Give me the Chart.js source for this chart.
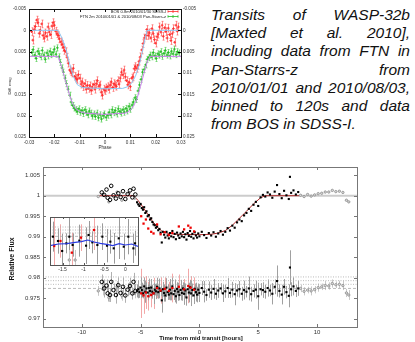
<!DOCTYPE html>
<html>
<head>
<meta charset="utf-8">
<script src="https://cdn.jsdelivr.net/npm/chart.js@4.4.1/dist/chart.umd.min.js"></script>
<style>
  html, body { margin:0; padding:0; background:#fff; width:415px; height:342px; overflow:hidden; }
  canvas { position:absolute; }
  #c1 { left:0; top:0; }
  #c2 { left:0; top:160px; }
  #c3 { left:40px; top:205px; }
  #note { position:absolute; left:211px; top:6px; width:199px; color:#111;
          font: italic 15.5px/18.2px "Liberation Sans", Arial, sans-serif; }
  #note div { text-align: justify; text-align-last: justify; }
  #note div.last { text-align-last: left; }
</style>
</head>
<body>
<canvas id="c1" width="205" height="155"></canvas>
<div id="note">
  <div>Transits of WASP-32b</div>
  <div>[Maxted et al. 2010],</div>
  <div>including data from FTN in</div>
  <div>Pan-Starrs-z from</div>
  <div>2010/01/01 and 2010/08/03,</div>
  <div>binned to 120s and data</div>
  <div class="last">from BOS in SDSS-I.</div>
</div>
<canvas id="c2" width="415" height="182"></canvas>
<canvas id="c3" width="110" height="70"></canvas>
<script>
// ---- top panel: phase-folded light curves (diff. mag) ----
const phaseTicks = [-0.03, -0.02, -0.01, 0, 0.01, 0.02, 0.03]
const phaseLabels = ['-0.03', '-0.02', '-0.01', '0', '0.01', '0.02', '0.03']
const magTicks = [-0.005, 0, 0.005, 0.01, 0.015, 0.02, 0.025]
const magLabels = ['-0.005', '0', '0.005', '0.01', '0.015', '0.02', '0.025']
const legendNames = ['BOS 0.8m 2010/01/30 SDSS-I', 'FTN 2m 2010/01/01 & 2010/08/03 Pan-Starrs-z']

const bosPhase = [-0.029,-0.0285,-0.028,-0.0275,-0.027,-0.0265,-0.026,-0.0255,-0.025,-0.0245,-0.024,-0.0235,-0.023,-0.0225,-0.022,-0.0215,-0.021,-0.0205,-0.02,-0.0195,-0.019,
  -0.0185,-0.018,-0.0175,-0.017,-0.0165,-0.016,-0.0155,-0.015,-0.0145,-0.014,-0.0135,-0.013,-0.0125,-0.012,-0.0115,-0.011,
  -0.0105,-0.01,-0.0095,-0.009,-0.0085,-0.008,-0.0075,-0.007,-0.0065,-0.006,-0.0055,-0.005,-0.0045,-0.004,-0.0035,-0.003,-0.0025,-0.002,-0.0015,-0.001,-0.0005,0,
  0.0005,0.001,0.0015,0.002,0.0025,0.003,0.0035,0.004,0.0045,0.005,0.0055,0.006,0.0065,0.007,0.0075,0.008,0.0085,0.009,0.0095,0.01,
  0.0105,0.011,0.0115,0.012,0.0125,0.013,0.0135,0.014,0.0145,0.015,0.0155,0.016,0.0165,
  0.017,0.0175,0.018,0.0185,0.019,0.0195,0.02,0.0205,0.021,0.0215,0.022,0.0225,0.023,0.0235,0.024,0.0245,0.025,0.0255,0.026,0.0265,0.027,0.0275,0.028,0.0285,0.029]
const bosMag = [0.0003,0.0023,-0.0002,-0.0009,-0.0024,-0.0018,0.0007,0.0,-0.0015,0.0012,0.0018,0.0006,0.0014,-0.0008,0.0004,0.001,-0.001,-0.0018,-0.0012,0.0002,0.0008,
  0.0012,0.002,0.0027,0.0033,0.004,0.0047,0.005,0.0063,0.0077,0.0093,0.0097,0.01,0.0089,0.0108,0.0112,0.0115,
  0.0104,0.0112,0.0126,0.0121,0.0132,0.0125,0.0138,0.0129,0.0136,0.013,0.0141,0.0133,0.0127,0.0138,0.0125,0.0118,0.0131,0.0128,0.0145,0.0152,0.0138,0.0141,
  0.0135,0.0132,0.0138,0.0128,0.0121,0.0134,0.0125,0.0128,0.0131,0.0118,0.0126,0.0112,0.0098,0.0104,0.0093,0.0109,0.0118,0.0128,0.0122,0.0132,
  0.0112,0.0109,0.009,0.0085,0.0089,0.0082,0.0072,0.0062,0.0046,0.0031,0.0018,0.0012,-0.0002,
  0.0012,0.0006,0.0018,-0.0004,0.0008,0.0022,0.003,0.0015,0.0009,-0.0008,0.0004,-0.0012,0.0014,-0.0006,0.0003,0.0018,-0.0005,0.001,0.0024,0.0008,-0.0004,0.0028,-0.0012,0.0002,-0.0008]
const bosErr = 0.0009

const ftnPhase = [-0.029,-0.0284,-0.0278,-0.0272,-0.0266,-0.026,-0.0254,-0.0248,-0.0242,-0.0236,-0.023,-0.0224,-0.0218,-0.0212,-0.0206,-0.02,-0.0194,-0.0188,-0.0182,
  -0.0176,-0.017,-0.0164,-0.0158,-0.0152,-0.0146,-0.014,-0.0134,-0.0128,-0.0122,-0.0116,
  -0.011,-0.0104,-0.0098,-0.0092,-0.0086,-0.008,-0.0074,-0.0068,-0.0062,-0.0056,-0.005,-0.0044,-0.0038,-0.0032,-0.0026,-0.002,-0.0014,-0.0008,-0.0002,
  0.0004,0.001,0.0016,0.0022,0.0028,0.0034,0.004,0.0046,0.0052,0.0058,0.0064,0.007,0.0076,0.0082,0.0088,0.0094,0.01,
  0.0106,0.0112,0.0118,0.0124,0.013,0.0136,0.0142,0.0148,0.0154,0.016,0.0166,0.0172,
  0.0178,0.0184,0.019,0.0196,0.0202,0.0208,0.0214,0.022,0.0226,0.0232,0.0238,0.0244,0.025,0.0256,0.0262,0.0268,0.0274,0.028,0.0286,0.0292]
const ftnMag = [0.0052,0.0045,0.0058,0.0066,0.0049,0.0055,0.0062,0.0047,0.0058,0.0068,0.0053,0.006,0.0049,0.0057,0.0052,0.0044,0.0056,0.0041,0.0062,
  0.0075,0.0088,0.0098,0.0112,0.0125,0.0138,0.0152,0.0168,0.0176,0.0182,0.0186,
  0.019,0.0184,0.0192,0.0188,0.0195,0.0186,0.0192,0.0198,0.0189,0.0194,0.0201,0.0196,0.0202,0.0194,0.0205,0.0198,0.0208,0.02,0.0196,
  0.0204,0.0199,0.0192,0.0198,0.0186,0.0193,0.0188,0.0196,0.0184,0.019,0.0194,0.0186,0.0192,0.0183,0.0189,0.0178,0.0185,
  0.0175,0.0168,0.0158,0.0162,0.0142,0.0128,0.0115,0.0098,0.0092,0.0081,0.0068,0.0064,
  0.0058,0.0062,0.0052,0.006,0.0066,0.0055,0.0058,0.005,0.0061,0.0054,0.0047,0.0058,0.0052,0.006,0.0049,0.0055,0.0044,0.0057,0.005,0.0053]
const ftnErr = 0.0007

const bosFitPhase = [-0.03,-0.0185,-0.017,-0.0155,-0.014,-0.0125,-0.011,-0.009,0,0.007,0.009,0.0105,0.012,0.0135,0.0148,0.0158,0.0166,0.03]
const bosFitMag = [0,0,0.0018,0.0042,0.0078,0.0108,0.0127,0.0134,0.0137,0.0136,0.0132,0.0124,0.0108,0.0082,0.0048,0.002,0,0]
const ftnFitPhase = [-0.03,-0.0185,-0.017,-0.0155,-0.014,-0.0128,-0.0115,-0.01,-0.008,0,0.008,0.0095,0.011,0.0125,0.014,0.0155,0.0168,0.0178,0.03]
const ftnFitMag = [0.0061,0.0061,0.0088,0.0121,0.0152,0.0172,0.0184,0.019,0.0194,0.0197,0.0194,0.019,0.018,0.0163,0.0132,0.0098,0.0072,0.0061,0.0061]

// ---- bottom panel: relative flux vs time (hours) ----
const timeTicks = [-10, -5, 0, 5, 10]
const timeLabels = ['-10', '-5', '0', '5', '10']
const fluxTicks = [0.97, 0.975, 0.98, 0.985, 0.99, 0.995, 1, 1.005]
const fluxLabels = ['0.97', '0.975', '0.98', '0.985', '0.99', '0.995', '1', '1.005']
const residualLevels = [0.9802, 0.9793, 0.9784, 0.9774]
const unityLevel = 1

const fitT = [-8.5,-5.6,-5.2,-4.8,-4.4,-4.0,-3.6,-3.2,-2.8,-2.0,0.0,1.0,1.6,2.2,2.8,3.4,4.0,4.6,5.2,5.6,8.5]
const fitFlux = [1.0,1.0,0.9988,0.9972,0.9955,0.9938,0.9924,0.9914,0.9909,0.9906,0.9905,0.9906,0.9909,0.9915,0.9928,0.9945,0.9962,0.998,0.9995,1.0,1.0]

const blkT = [-5.3,-5.2,-5.1,-5.0,-4.9,-4.8,-4.7,-4.6,-4.5,-4.4,-4.3,-4.2,-4.1,-4.0,-3.9,-3.8,-3.7,-3.6,-3.5,-3.4,-3.3,-3.2,-3.1,-3.0,
  -2.9,-2.8,-2.7,-2.6,-2.5,-2.4,-2.3,-2.2,-2.1,-2.0,-1.9,-1.8,-1.7,-1.6,-1.5,-1.4,-1.3,-1.2,-1.1,-1.0,-0.9,-0.8,-0.7,-0.6,-0.5,-0.4,-0.3,-0.2,-0.1,
  0.0,0.2,0.4,0.6,0.8,1.0,1.2,1.4,
  1.6,1.8,2.0,2.2,2.4,2.6,2.8,3.0,3.2,3.4,3.6,3.8,4.0,4.2,4.4,4.6,4.8,5.0,5.2,5.4,
  5.6,5.8,6.0,6.2,6.4,6.6,6.8,7.0,7.2,7.4,7.6,7.7,7.8,8.0,8.2,8.4]
const blkFlux = [0.9984,0.9979,0.9975,0.998,0.997,0.9966,0.9972,0.9958,0.9962,0.995,0.9953,0.9942,0.9945,0.9936,0.993,0.9928,0.9922,0.9925,0.9916,0.9919,0.991,0.9886,0.9912,0.9905,
  0.9898,0.9912,0.9903,0.9896,0.9909,0.9901,0.9914,0.9899,0.9907,0.9894,0.991,0.9903,0.9897,0.9908,0.9901,0.9912,0.9899,0.9906,0.9893,0.9909,0.9902,0.9914,0.99,0.9907,0.9896,0.9911,0.9903,0.9898,0.9908,
  0.9901,0.9912,0.9904,0.9897,0.9909,0.9903,0.9911,0.99,
  0.9908,0.9914,0.9905,0.9912,0.9921,0.9915,0.9927,0.9922,0.9935,0.9942,0.9938,0.9952,0.9958,0.9968,0.9963,0.9978,0.9985,0.9975,0.9996,1.0002,
  0.9998,1.0008,1.0003,0.9995,1.001,1.0026,1.0004,0.9994,1.0012,1.0001,0.9992,1.0046,1.0007,1.0013,1.0003,1.0009]
const blkRes = [0.9768,0.9772,0.9765,0.9776,0.977,0.9762,0.9779,0.9766,0.9774,0.9764,0.9775,0.9768,0.9776,0.9766,0.9762,0.9771,0.9767,0.9778,0.9765,0.9774,0.9768,0.9745,0.9772,0.9763,
  0.9757,0.9776,0.9765,0.9759,0.9771,0.9762,0.9779,0.976,0.9768,0.9755,0.9773,0.9766,0.9758,0.977,0.9763,0.9774,0.9761,0.9769,0.9752,0.9772,0.9764,0.9777,0.9762,0.977,0.9757,0.9773,0.9765,0.9759,0.9771,
  0.9763,0.9775,0.9766,0.9758,0.9771,0.9764,0.9773,0.9761,
  0.9769,0.9774,0.9762,0.9767,0.9775,0.9763,0.9771,0.976,0.9769,0.9772,0.9761,0.977,0.9766,0.9774,0.976,0.9768,0.9771,0.9755,0.9772,0.977,
  0.9766,0.9775,0.9769,0.9761,0.9778,0.9792,0.9768,0.9759,0.9778,0.9765,0.9756,0.9825,0.9772,0.9779,0.9768,0.9774]
const blkErr = [0.0016,0.0022,0.0014,0.0025,0.0018,0.0012,0.002,0.0027,0.0015,0.0019,0.0023,0.0013,0.0021,0.0017,0.0026,0.0014,0.0019,0.0022,0.0016,0.0024,0.0013,0.003,0.0018,0.0021,
  0.0015,0.0023,0.0019,0.0012,0.0026,0.0017,0.0021,0.0014,0.0028,0.0018,0.0016,0.0022,0.0013,0.0025,0.0019,0.0015,0.0027,0.0017,0.002,0.0014,0.0024,0.0018,0.0031,0.0016,0.0021,0.0013,0.0023,0.0019,0.0015,
  0.0022,0.0017,0.0026,0.0014,0.002,0.0018,0.0024,0.0015,
  0.0018,0.0013,0.0021,0.0016,0.0024,0.0012,0.0019,0.0027,0.0015,0.002,0.0017,0.0023,0.0014,0.0029,0.0018,0.0016,0.0022,0.0033,0.0015,0.0019,
  0.0017,0.0021,0.0014,0.0026,0.0018,0.0038,0.0016,0.0024,0.0019,0.0015,0.0028,0.0042,0.0017,0.0022,0.0015,0.0018]

const circT = [-8.3,-8.1,-7.9,-7.8,-7.6,-7.5,-7.3,-7.1,-6.9,-6.7,-6.5,-6.3,-6.1,-5.9,-5.7,-5.6,-5.45]
const circFlux = [1.0008,1.0002,1.0015,0.9995,0.999,1.0024,1.0001,0.9993,1.0006,0.9997,1.0011,0.9992,1.0004,1.0013,0.9996,1.0017,1.0003]
const circRes = [0.979,0.9774,0.9781,0.9762,0.9758,0.979,0.977,0.9758,0.9782,0.9763,0.9778,0.9757,0.9771,0.978,0.9762,0.979,0.9768]
const circErr = [0.0018,0.0022,0.0015,0.002,0.0017,0.0024,0.0016,0.0021,0.0019,0.0014,0.0023,0.0018,0.0016,0.002,0.0015,0.0022,0.0017]

const redT = [-4.95,-4.75,-4.55,-4.35,-4.1,-3.9,-3.6,-3.3,-2.95,-2.6,-2.3,-1.75,-1.3,-0.95,-0.75,-0.45]
const redFlux = [0.995,0.9932,0.9942,0.992,0.9912,0.9908,0.993,0.9906,0.9911,0.9904,0.9909,0.9925,0.9918,0.9927,0.9922,0.9913]
const redRes = [0.9762,0.9757,0.9764,0.9755,0.9758,0.9762,0.9775,0.9769,0.9773,0.9768,0.9775,0.9778,0.9772,0.978,0.9776,0.9771]
const redErr = [0.006,0.0045,0.004,0.0035,0.003,0.0038,0.0025,0.0032,0.0028,0.0022,0.0035,0.003,0.0025,0.0042,0.0028,0.003]

const gryT = [-8.6,-8.2,-7.7,-7.0,-6.6,-6.0,-5.5,8.6,8.9,9.2,9.5,9.8,10.1,10.4,10.7,11.0,11.3,11.6,11.9,12.2,12.5,12.7]
const gryFlux = [0.9998,1.0004,0.9985,1.0009,0.9989,1.0006,0.9994,1.0001,0.9998,1.0003,0.9999,1.0002,1.0005,1.0006,1.0009,1.0009,1.0013,1.001,1.0011,1.0008,0.9989,0.9985]
const gryRes = [0.9768,0.9772,0.9752,0.9778,0.9757,0.9774,0.9762,0.9774,0.9767,0.977,0.9768,0.9771,0.9776,0.9778,0.9781,0.978,0.9786,0.9783,0.9784,0.9781,0.9763,0.9758]
const gryErr = [0.0012,0.0015,0.0011,0.0014,0.0013,0.0016,0.0012,0.0009,0.001,0.0008,0.0011,0.0009,0.001,0.0008,0.0011,0.0009,0.001,0.0008,0.0009,0.0011,0.001,0.0012]

// ---- inset ----
const insTicks = [-1.5, -1, -0.5, 0]
const insLabels = ['-1.5', '-1', '-0.5', '0']
const insT = [-1.73,-1.61,-1.51,-1.41,-1.34,-1.26,-1.1,-0.94,-0.88,-0.79,-0.67,-0.55,-0.44,-0.36,-0.28,-0.16,-0.04,0.07,0.19,0.23]
const insFlux = [0.9773,0.976,0.973,0.9753,0.9773,0.9748,0.9761,0.9746,0.9778,0.9756,0.9748,0.9773,0.9746,0.9758,0.9738,0.9768,0.9743,0.9773,0.9738,0.9753]
const insErr = [0.0045,0.0038,0.0052,0.003,0.006,0.0035,0.0048,0.0055,0.0042,0.0033,0.0058,0.004,0.005,0.0036,0.0046,0.0062,0.0039,0.0053,0.0044,0.0037]
const insRedT = [-1.7,-1.55,-1.28,-1.06,-0.75]
const insRedFlux = [0.9745,0.976,0.9725,0.977,0.9793]
const insRedErr = [0.009,0.005,0.006,0.004,0.006]
const insGryT = [-1.34,-1.2]
const insGryFlux = [0.9703,0.9703]
const insGryErr = [0.003,0.003]
const insFitT = [-1.8,-1.6,-1.4,-1.2,-1.05,-0.9,-0.75,-0.6,-0.45,-0.3,-0.15,0,0.15,0.3]
const insFitFlux = [0.9746,0.9751,0.9752,0.9756,0.9758,0.9763,0.9757,0.9753,0.975,0.9746,0.9752,0.9748,0.9751,0.9744]

Chart.defaults.animation = false
Chart.defaults.plugins.legend.display = false
Chart.defaults.plugins.tooltip.enabled = false
Chart.defaults.font.family = '"Liberation Sans", Arial, sans-serif'

const zip = (xs, ys) => xs.map((x, i) => ({ x: x, y: ys[i] }))
const hline = (v, x0, x1) => [{ x: x0, y: v }, { x: x1, y: v }]
const noGrid = { display: false, drawTicks: false }

// vertical error bars, drawn under the markers
const errorBars = {
  id: 'errorBars',
  beforeDatasetsDraw(chart) {
    const { ctx, chartArea: a } = chart
    ctx.save()
    ctx.beginPath()
    ctx.rect(a.left, a.top, a.right - a.left, a.bottom - a.top)
    ctx.clip()
    chart.data.datasets.forEach((ds, i) => {
      if (ds.errors === undefined) return
      const meta = chart.getDatasetMeta(i)
      const ys = chart.scales[meta.yAxisID]
      ctx.strokeStyle = ds.errorColor
      ctx.lineWidth = ds.errorWidth || 1
      ctx.beginPath()
      meta.data.forEach((el, j) => {
        const e = Array.isArray(ds.errors) ? ds.errors[j] : ds.errors
        const v = ds.data[j].y
        const x = Math.round(el.x) + 0.5
        const y1 = ys.getPixelForValue(v - e)
        const y2 = ys.getPixelForValue(v + e)
        ctx.moveTo(x, y1); ctx.lineTo(x, y2)
        if (ds.errorCap) {
          ctx.moveTo(x - ds.errorCap, y1); ctx.lineTo(x + ds.errorCap, y1)
          ctx.moveTo(x - ds.errorCap, y2); ctx.lineTo(x + ds.errorCap, y2)
        }
      })
      ctx.stroke()
    })
    ctx.restore()
  }
}

// box round the plot area with inward ticks
const frameTicks = {
  id: 'frameTicks',
  afterDraw(chart, args, o) {
    const { ctx, chartArea: a, scales } = chart
    const L = o.len
    ctx.save()
    ctx.strokeStyle = o.color
    ctx.lineWidth = 1
    ctx.beginPath()
    scales.x.ticks.forEach(t => {
      const p = Math.round(scales.x.getPixelForValue(t.value)) + 0.5
      ctx.moveTo(p, a.bottom); ctx.lineTo(p, a.bottom - L)
      ctx.moveTo(p, a.top); ctx.lineTo(p, a.top + L)
    })
    if (o.yTicks) {
      scales.y.ticks.forEach(t => {
        const p = Math.round(scales.y.getPixelForValue(t.value)) + 0.5
        ctx.moveTo(a.left, p); ctx.lineTo(a.left + L, p)
        ctx.moveTo(a.right, p); ctx.lineTo(a.right - L, p)
      })
    }
    ctx.stroke()
    ctx.strokeRect(Math.round(a.left) + 0.5, Math.round(a.top) + 0.5,
                   Math.round(a.right - a.left), Math.round(a.bottom - a.top))
    ctx.restore()
  }
}

const axisTitles = {
  id: 'axisTitles',
  afterDraw(chart, args, o) {
    const ctx = chart.ctx
    o.items.forEach(t => {
      ctx.save()
      ctx.font = t.font
      ctx.fillStyle = t.color
      ctx.textAlign = 'center'
      ctx.textBaseline = 'middle'
      ctx.translate(t.x, t.y)
      if (t.rot) ctx.rotate(-Math.PI / 2)
      ctx.fillText(t.text, 0, 0)
      ctx.restore()
    })
  }
}

// gnuplot-like key in the top right corner
const keyBox = {
  id: 'keyBox',
  afterDraw(chart, args, o) {
    const { ctx, chartArea: a } = chart
    ctx.save()
    ctx.font = '4.1px "Liberation Sans", Arial, sans-serif'
    ctx.textAlign = 'right'
    ctx.textBaseline = 'middle'
    o.names.forEach((name, i) => {
      const y = a.top + 2.5 + i * 5
      ctx.fillStyle = '#222'
      ctx.fillText(name, a.right - 15, y)
      ctx.strokeStyle = o.colors[i]
      ctx.lineWidth = 0.8
      const x0 = a.right - 13, x1 = a.right - 3
      ctx.beginPath()
      ctx.moveTo(x0, y); ctx.lineTo(x1, y)
      ctx.moveTo(x0, y - 1.2); ctx.lineTo(x0, y + 1.2)
      ctx.moveTo(x1, y - 1.2); ctx.lineTo(x1, y + 1.2)
      ctx.moveTo((x0 + x1) / 2, y - 1.5); ctx.lineTo((x0 + x1) / 2, y + 1.5)
      ctx.stroke()
    })
    ctx.restore()
  }
}

const fixedTicks = (vals) => (s) => { s.ticks = vals.map(v => ({ value: v })) }

// ---------- chart 1 ----------
const topTickFont = { size: 4.6 }
new Chart(document.getElementById('c1'), {
  type: 'scatter',
  data: {
    datasets: [
      { data: zip(bosFitPhase, bosFitMag), showLine: true, pointRadius: 0, borderColor: '#8cc8f4', borderWidth: 1 },
      { data: zip(ftnFitPhase, ftnFitMag), showLine: true, pointRadius: 0, borderColor: '#cc80ee', borderWidth: 1 },
      { data: zip(bosPhase, bosMag), errors: bosErr, errorColor: 'rgba(255,70,70,0.75)', errorCap: 1, errorWidth: 0.8,
        pointStyle: 'cross', pointRadius: 1.4, borderWidth: 0.9, borderColor: '#ff2a2a', backgroundColor: '#ff2a2a' },
      { data: zip(ftnPhase, ftnMag), errors: ftnErr, errorColor: 'rgba(60,200,60,0.75)', errorCap: 1, errorWidth: 0.8,
        pointStyle: 'cross', pointRadius: 1.4, borderWidth: 0.9, borderColor: '#22bb22', backgroundColor: '#22bb22' }
    ]
  },
  options: {
    responsive: false,
    layout: { padding: { top: 9, left: 0, right: 0, bottom: 0 } },
    scales: {
      x: {
        type: 'linear', min: -0.03, max: 0.03,
        afterBuildTicks: fixedTicks(phaseTicks),
        afterFit: s => { s.height = 18 },
        grid: noGrid, border: { display: false },
        ticks: { font: topTickFont, color: '#333', padding: 3, autoSkip: false, maxRotation: 0,
                 callback: (v, i) => phaseLabels[i] }
      },
      y: {
        min: -0.005, max: 0.025, reverse: true,
        afterBuildTicks: fixedTicks(magTicks),
        afterFit: s => { s.width = 29 },
        grid: noGrid, border: { display: false },
        ticks: { font: topTickFont, color: '#333', padding: 3, autoSkip: false, callback: (v, i) => magLabels[i] }
      },
      y2: {
        position: 'right', min: -0.005, max: 0.025, reverse: true,
        afterBuildTicks: fixedTicks(magTicks),
        afterFit: s => { s.width = 24 },
        grid: noGrid, border: { display: false },
        ticks: { font: topTickFont, color: '#333', padding: 2, autoSkip: false, callback: (v, i) => magLabels[i] }
      }
    },
    plugins: {
      frameTicks: { len: 3, color: '#111', yTicks: true },
      keyBox: { names: legendNames, colors: ['#ff2a2a', '#22bb22'] },
      axisTitles: { items: [
        { text: 'Phase', x: 105, y: 148, font: '4.6px "Liberation Sans", Arial, sans-serif', color: '#333' },
        { text: 'Diff. mag', x: 10, y: 86, rot: true, font: '4.3px "Liberation Sans", Arial, sans-serif', color: '#333' }
      ] }
    }
  },
  plugins: [errorBars, frameTicks, keyBox, axisTitles]
})

// ---------- chart 2 ----------
const tMin = -13.3, tMax = 13.4
const lowTickFont = { size: 6 }
new Chart(document.getElementById('c2'), {
  type: 'scatter',
  data: {
    datasets: [
      { data: zip(redT, redFlux), pointStyle: 'rect', pointRadius: 1.6, borderWidth: 0, backgroundColor: '#ee0000' },
      { data: zip(blkT, blkFlux), pointStyle: 'rect', pointRadius: 1.5, borderWidth: 0, backgroundColor: '#000' },
      { data: zip(circT, circFlux), pointStyle: 'circle', pointRadius: 1.8, borderWidth: 1, borderColor: '#000', backgroundColor: 'rgba(0,0,0,0)' },
      { data: zip(gryT, gryFlux), pointStyle: 'circle', pointRadius: 1.2, borderWidth: 0.8, borderColor: '#8a8a8a', backgroundColor: '#d8d8d8' },
      { data: zip(fitT, fitFlux), showLine: true, pointRadius: 0, borderColor: '#b02828', borderWidth: 1 },
      { data: zip(redT, redRes), errors: redErr, errorColor: '#f3a8a8', pointStyle: 'rect', pointRadius: 1.6, borderWidth: 0, backgroundColor: '#ee0000' },
      { data: zip(blkT, blkRes), errors: blkErr, errorColor: '#a0a0a0', pointStyle: 'rect', pointRadius: 1.5, borderWidth: 0, backgroundColor: '#000' },
      { data: zip(circT, circRes), errors: circErr, errorColor: '#b0b0b0', pointStyle: 'circle', pointRadius: 1.8, borderWidth: 1, borderColor: '#000', backgroundColor: 'rgba(0,0,0,0)' },
      { data: zip(gryT, gryRes), errors: gryErr, errorColor: '#c8c8c8', pointStyle: 'circle', pointRadius: 1.2, borderWidth: 0.8, borderColor: '#8a8a8a', backgroundColor: '#d8d8d8' },
      ...residualLevels.map((v, i) => ({
        data: hline(v, tMin, tMax), showLine: true, pointRadius: 0, borderWidth: 0.8, borderColor: '#a8a8a8',
        borderDash: i === residualLevels.length - 1 ? [3, 2] : [1, 1.5]
      })),
      { data: hline(unityLevel, tMin, tMax), showLine: true, pointRadius: 0, borderWidth: 2, borderColor: '#cccccc' }
    ]
  },
  options: {
    responsive: false,
    layout: { padding: { top: 7, left: 0, right: 58, bottom: 0 } },
    scales: {
      x: {
        type: 'linear', min: tMin, max: tMax,
        afterBuildTicks: fixedTicks(timeTicks),
        afterFit: s => { s.height = 15 },
        grid: noGrid, border: { display: false },
        ticks: { font: lowTickFont, color: '#333', padding: 2, autoSkip: false, maxRotation: 0,
                 callback: (v, i) => timeLabels[i] }
      },
      y: {
        min: 0.968, max: 1.007,
        afterBuildTicks: fixedTicks(fluxTicks),
        afterFit: s => { s.width = 43 },
        grid: noGrid, border: { display: false },
        ticks: { font: lowTickFont, color: '#333', padding: 3, autoSkip: false, callback: (v, i) => fluxLabels[i] }
      }
    },
    plugins: {
      frameTicks: { len: 3, color: '#777', yTicks: true },
      axisTitles: { items: [
        { text: 'Time from mid transit [hours]', x: 201, y: 178, font: 'bold 6px "Liberation Sans", Arial, sans-serif', color: '#111' },
        { text: 'Relative Flux', x: 12, y: 99, rot: true, font: 'bold 7px "Liberation Sans", Arial, sans-serif', color: '#111' }
      ] }
    }
  },
  plugins: [errorBars, frameTicks, axisTitles]
})

// ---------- chart 3 (inset) ----------
const insetBg = {
  id: 'insetBg',
  beforeDraw(chart) {
    const { ctx, chartArea: a } = chart
    ctx.save()
    ctx.fillStyle = '#fff'
    ctx.fillRect(a.left, a.top, a.right - a.left, a.bottom - a.top)
    ctx.restore()
  }
}
new Chart(document.getElementById('c3'), {
  type: 'scatter',
  data: {
    datasets: [
      { data: zip(insFitT, insFitFlux), showLine: true, pointRadius: 0, borderColor: '#2a3ae0', borderWidth: 1.2 },
      { data: zip(insRedT, insRedFlux), errors: insRedErr, errorColor: '#f3a8a8', pointStyle: 'rect', pointRadius: 1.6, borderWidth: 0, backgroundColor: '#ee0000' },
      { data: zip(insT, insFlux), errors: insErr, errorColor: '#9a9a9a', pointStyle: 'rect', pointRadius: 1.5, borderWidth: 0, backgroundColor: '#000' },
      { data: zip(insGryT, insGryFlux), errors: insGryErr, errorColor: '#c8c8c8', pointStyle: 'circle', pointRadius: 1.2, borderWidth: 0.8, borderColor: '#8a8a8a', backgroundColor: '#d8d8d8' },
      ...residualLevels.map((v, i) => ({
        data: hline(v, -1.8, 0.3), showLine: true, pointRadius: 0, borderWidth: 0.8, borderColor: '#a8a8a8',
        borderDash: i === residualLevels.length - 1 ? [3, 2] : [1, 1.5]
      }))
    ]
  },
  options: {
    responsive: false,
    layout: { padding: { top: 12, left: 10, right: 12, bottom: 0 } },
    scales: {
      x: {
        type: 'linear', min: -1.8, max: 0.3,
        afterBuildTicks: fixedTicks(insTicks),
        afterFit: s => { s.height = 10 },
        grid: noGrid, border: { display: false },
        ticks: { font: { size: 5 }, color: '#333', padding: 2, autoSkip: false, maxRotation: 0,
                 callback: (v, i) => insLabels[i] }
      },
      y: { display: false, min: 0.9688, max: 0.9832 }
    },
    plugins: {
      frameTicks: { len: 2, color: '#555', yTicks: false }
    }
  },
  plugins: [insetBg, errorBars, frameTicks]
})
</script>
</body>
</html>
